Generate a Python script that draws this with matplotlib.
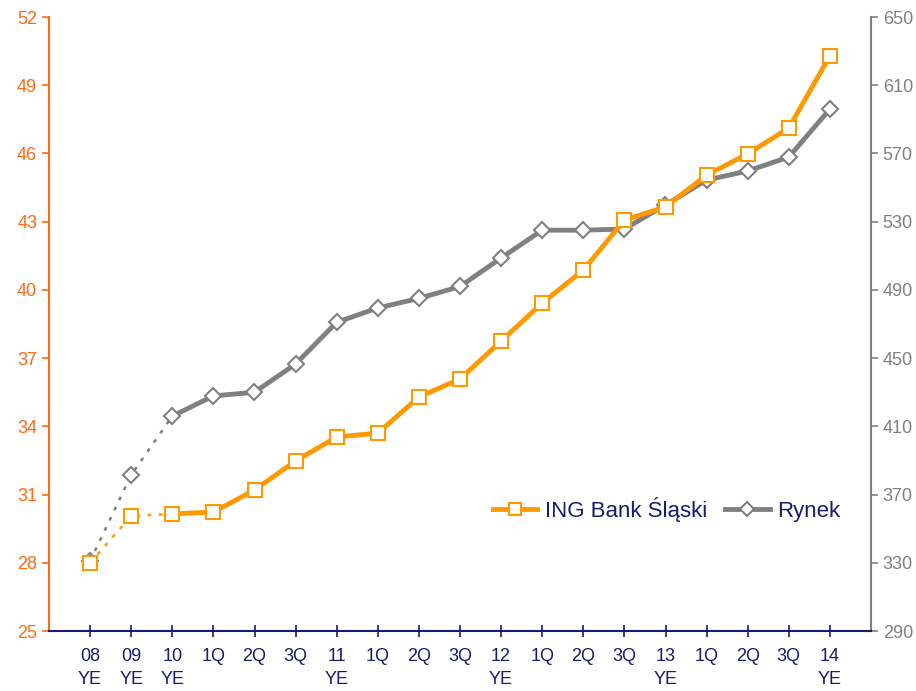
import matplotlib.pyplot as plt
import numpy as np

plt.rcParams['font.family'] = ['Liberation Sans', 'DejaVu Sans']

# categories on the x axis
labels = ["08\nYE", "09\nYE", "10\nYE", "1Q", "2Q", "3Q", "11\nYE", "1Q", "2Q", "3Q",
          "12\nYE", "1Q", "2Q", "3Q", "13\nYE", "1Q", "2Q", "3Q", "14\nYE"]

# ING Bank Slaski (left axis)
ing = [28.0, 30.06, 30.15, 30.23, 31.2, 32.48, 33.53, 33.7, 35.29, 36.08,
       37.75, 39.42, 40.87, 43.07, 43.65, 45.05, 45.98, 47.12, 50.29]

# Rynek (right axis)
rynek = [331, 381.5, 416, 427.8, 430, 446.5, 471, 479.4, 485, 492,
         508.7, 525, 525, 525.7, 539.8, 554.4, 559.7, 567.9, 596]

orange = '#FF9900'
orange_ax = '#FF6A13'
grey = '#808080'
navy = '#1A1A6E'

x = np.arange(len(labels))

fig = plt.figure(figsize=(9.16, 6.91), dpi=100)
ax = fig.add_axes([49/916, 60/691, 822/916, 614/691])
ax2 = ax.twinx()

# orange series on left axis
ax.plot(x[:3], ing[:3], color=orange, lw=1.8, linestyle=(0, (1.5, 3)), zorder=2)
ax.plot(x[2:], ing[2:], color=orange, lw=3.5, zorder=2)
ax.plot(x, ing, linestyle='none', marker='s', markersize=10, markerfacecolor='white',
        markeredgecolor=orange, markeredgewidth=1.5, zorder=3)

# grey series on right axis
ax2.plot(x[:3], rynek[:3], color=grey, lw=1.8, linestyle=(0, (1.5, 3)), zorder=2)
ax2.plot(x[2:], rynek[2:], color=grey, lw=3.5, zorder=2)
ax2.plot(x, rynek, linestyle='none', marker='D', markersize=8, markerfacecolor='white',
         markeredgecolor=grey, markeredgewidth=1.5, zorder=3)

ax.set_xlim(-1, len(labels))
ax.set_ylim(25, 52)
ax.set_yticks(np.arange(25, 53, 3))
ax2.set_ylim(290, 650)
ax2.set_yticks(np.arange(290, 651, 40))

ax.set_xticks(x)
ax.set_xticklabels(labels, color=navy, fontsize=13, linespacing=1.45)
ax.tick_params(axis='x', direction='inout', length=8, color=navy, width=1.2, pad=8)
ax.tick_params(axis='y', colors=orange_ax, labelsize=13, length=5, width=1.2)
ax2.tick_params(axis='y', colors=grey, labelsize=13, length=5, width=1.2)

for a in (ax, ax2):
    a.spines['top'].set_visible(False)
ax.spines['left'].set_color(orange_ax)
ax.spines['left'].set_linewidth(1.5)
ax.spines['right'].set_visible(False)
ax2.spines['left'].set_visible(False)
ax2.spines['bottom'].set_visible(False)
ax2.spines['right'].set_color(grey)
ax2.spines['right'].set_linewidth(1.5)
ax.spines['bottom'].set_color(navy)
ax.spines['bottom'].set_linewidth(1.5)
ax.set_zorder(2)
ax.patch.set_visible(False)
ax2.set_zorder(1)

# legend handles
h1, = ax.plot([], [], color=orange, lw=3.5, marker='s', markersize=9, markerfacecolor='white',
              markeredgecolor=orange, markeredgewidth=1.5)
h2, = ax.plot([], [], color=grey, lw=3.5, marker='D', markersize=7, markerfacecolor='white',
              markeredgecolor=grey, markeredgewidth=1.5)
leg = ax.legend([h1, h2], ['ING Bank Śląski', 'Rynek'], ncol=2, frameon=False,
                loc='center right', bbox_to_anchor=(0.979, 0.198), fontsize=16,
                handlelength=2.0, handletextpad=0.35, columnspacing=0.8,
                borderaxespad=0.2)
for t in leg.get_texts():
    t.set_color(navy)

fig.savefig('out.png', dpi=100)
